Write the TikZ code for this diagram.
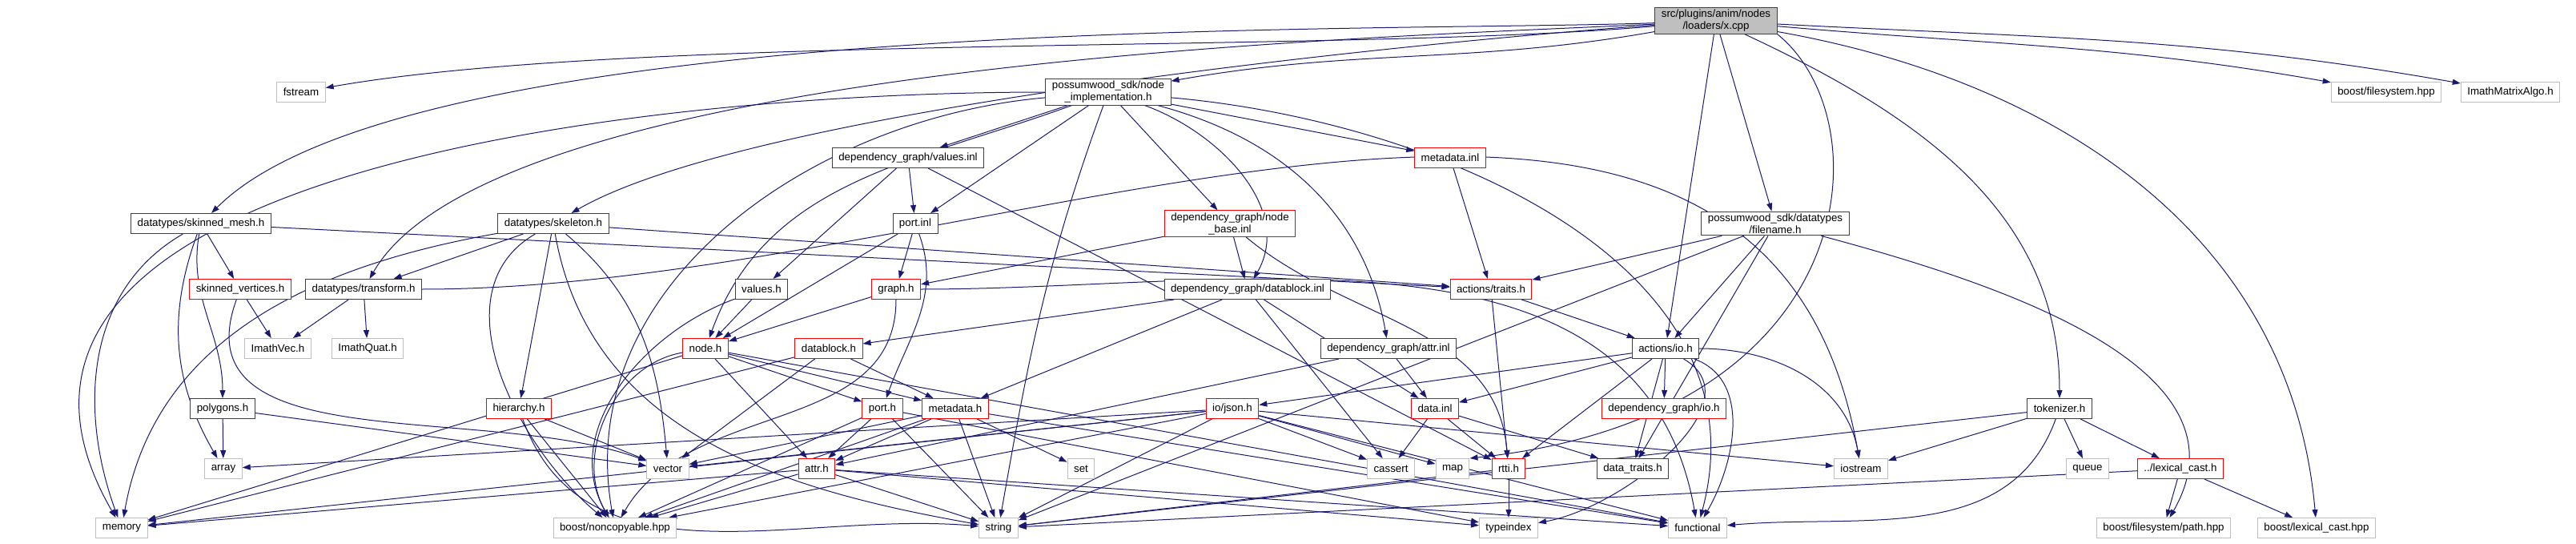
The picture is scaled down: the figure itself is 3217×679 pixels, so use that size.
\documentclass[tikz,border=0pt]{standalone}
\usepackage{fontspec}
\setmainfont{Liberation Sans}
\usetikzlibrary{arrows.meta,backgrounds}
\definecolor{edgeblue}{HTML}{191970}
\definecolor{boxred}{HTML}{FF0000}
\definecolor{boxgray}{HTML}{BFBFBF}
\begin{document}
\begin{tikzpicture}[x=0.1pt,y=-0.1pt,
  font=\fontsize{1.333}{1.5}\selectfont,
  box/.style={rectangle,line width=0.1pt,fill=white,inner xsep=0.8pt,inner ysep=0.25pt,minimum height=2.5pt,align=center},
  blkbox/.style={box,draw=black!75},
  redbox/.style={box,draw=boxred},
  sysbox/.style={box,draw=boxgray},
  rootbox/.style={box,draw=black!75,fill=boxgray},
  dep/.style={draw=edgeblue,line width=0.1pt,-{Triangle[length=1pt,width=0.7pt]}},
  every edge/.style={dep}]
\useasboundingbox (0,0) rectangle (3217,679);
\path (2143,26) node[rootbox] (root) {src/plugins/anim/nodes\\/loaders/x.cpp};
\path (376,115) node[sysbox] (fstream) {fstream};
\path (1384,115) node[blkbox] (nodeimpl) {possumwood\_sdk/node\\\_implementation.h};
\path (2980,115) node[sysbox] (fsys) {boost/filesystem.hpp};
\path (3135,115) node[sysbox] (imathmat) {ImathMatrixAlgo.h};
\path (1134,197) node[blkbox] (valuesinl) {dependency\_graph/values.inl};
\path (1811,197) node[redbox] (metainl) {metadata.inl};
\path (251,279) node[blkbox] (skinmesh) {datatypes/skinned\_mesh.h};
\path (691,279) node[blkbox] (skeleton) {datatypes/skeleton.h};
\path (1143,279) node[blkbox] (portinl) {port.inl};
\path (1536,279) node[redbox] (nodebase) {dependency\_graph/node\\\_base.inl};
\path (2217,279) node[blkbox] (filename) {possumwood\_sdk/datatypes\\/filename.h};
\path (300,361) node[redbox] (skinvert) {skinned\_vertices.h};
\path (454,361) node[blkbox] (transform) {datatypes/transform.h};
\path (951,361) node[blkbox] (valuesh) {values.h};
\path (1119,361) node[redbox] (graphh) {graph.h};
\path (1558,361) node[blkbox] (datablockinl) {dependency\_graph/datablock.inl};
\path (1862,361) node[redbox] (traits) {actions/traits.h};
\path (347,435) node[sysbox] (imathvec) {ImathVec.h};
\path (459,435) node[sysbox] (imathquat) {ImathQuat.h};
\path (881,435) node[redbox] (nodeh) {node.h};
\path (1035,435) node[redbox] (datablockh) {datablock.h};
\path (1734,435) node[blkbox] (attrinl) {dependency\_graph/attr.inl};
\path (2080,435) node[blkbox] (actio) {actions/io.h};
\path (278,510) node[blkbox] (polygons) {polygons.h};
\path (648,510) node[redbox] (hierarchy) {hierarchy.h};
\path (1102,510) node[redbox] (porth) {port.h};
\path (1193,510) node[redbox] (metah) {metadata.h};
\path (1539,510) node[redbox] (json) {io/json.h};
\path (1792,510) node[redbox] (datainl) {data.inl};
\path (2078,510) node[redbox] (dgio) {dependency\_graph/io.h};
\path (2572,510) node[blkbox] (tokenizer) {tokenizer.h};
\path (279,585) node[sysbox] (array) {array};
\path (834,585) node[sysbox] (vector) {vector};
\path (1020,585) node[redbox] (attrh) {attr.h};
\path (1350,585) node[sysbox] (set) {set};
\path (1737,585) node[sysbox] (cassert) {cassert};
\path (1814,585) node[sysbox] (map) {map};
\path (1884,585) node[redbox] (rtti) {rtti.h};
\path (2039,585) node[blkbox] (datatraits) {data\_traits.h};
\path (2324,585) node[sysbox] (iostream) {iostream};
\path (2607,585) node[sysbox] (queue) {queue};
\path (2723,585) node[redbox] (lexcast) {../lexical\_cast.h};
\path (152,659) node[sysbox] (memory) {memory};
\path (768,659) node[sysbox] (noncopy) {boost/noncopyable.hpp};
\path (1247,659) node[sysbox] (string) {string};
\path (1884,659) node[sysbox] (typeindex) {typeindex};
\path (2120,659) node[sysbox] (functional) {functional};
\path (2702,659) node[sysbox] (path) {boost/filesystem/path.hpp};
\path (2893,659) node[sysbox] (blexcast) {boost/lexical\_cast.hpp};
\begin{scope}[on background layer]
\path (root) edge[out=185,in=10,looseness=0.6] (fstream) edge[out=182,in=45,looseness=0.5] (skinmesh)
  edge[out=183,in=60,looseness=0.5] (transform) edge[out=184,in=30,looseness=0.5] (skeleton)
  edge[out=190,in=10] (nodeimpl) edge (actio) edge (filename)
  edge[out=-25,in=90] (tokenizer) edge[out=-5,in=170] (fsys) edge[out=-3,in=170] (imathmat) edge[out=-10,in=95] (blexcast);
\draw[dep] (root.south east) .. controls (2353,150) and (2330,520) .. (map.north east);
\path (nodeimpl) edge[out=180,in=120] (memory) edge[out=185,in=100] (noncopy) edge[out=200,in=70] (nodeh)
  edge (valuesinl) edge (portinl) edge[out=-110,in=80] (string) edge (nodebase) edge[out=-20,in=60] (datablockinl)
  edge[out=-15,in=100] (attrinl) edge (metainl) edge[out=-5,in=75] (functional);
\path (valuesinl) edge (portinl) edge (valuesh) edge (rtti);
\path (portinl) edge (nodeh) edge (graphh) edge[out=-70,in=70] (porth);
\path (nodebase) edge (graphh) edge (datablockinl) edge[out=-40,in=95] (rtti);
\path (metainl) edge (traits);
\path (filename) edge (traits) edge (actio) edge (datatraits) edge[out=-15,in=60] (path) edge (string);
\path (skinmesh) edge[out=-150,in=110] (memory) edge[out=-110,in=120] (array) edge[out=-100,in=90] (polygons)
  edge (skinvert) edge (traits);
\path (skeleton) edge (transform) edge[out=-170,in=80] (memory) edge (traits) edge (hierarchy) edge[out=-40,in=95] (vector)
  edge[out=-150,in=140] (noncopy) edge[out=-80,in=170] (string);
\path (skinvert) edge (imathvec) edge[out=-110,in=160] (vector);
\path (transform) edge (imathvec) edge (imathquat) edge[out=0,in=100] (iostream);
\path (polygons) edge (array) edge (vector);
\path (valuesh) edge (nodeh) edge[out=200,in=120] (noncopy);
\path (graphh) edge (nodeh) edge[out=-90,in=60] (noncopy) edge[out=0,in=100] (functional);
\path (datablockinl) edge (datablockh) edge (metah) edge (datainl) edge (cassert);
\path (traits) edge (actio) edge (rtti);
\path (nodeh) edge (memory) edge[out=190,in=120] (noncopy) edge (attrh) edge (porth) edge (metah) edge (functional);
\path (datablockh) edge (vector) edge (metah) edge (memory);
\path (attrinl) edge (datainl) edge (attrh);
\path (actio) edge (datainl) edge (json) edge (rtti) edge (dgio) edge (datatraits) edge[out=0,in=100] (iostream)
  edge[out=-20,in=60] (functional) edge[out=-30,in=10] (typeindex);
\path (hierarchy) edge (vector) edge (noncopy) edge[out=-70,in=175] (string);
\path (porth) edge (attrh) edge (string) edge (noncopy) edge (typeindex);
\path (metah) edge (attrh) edge (string) edge (set) edge (functional) edge (vector) edge (noncopy);
\path (json) edge (vector) edge (array) edge (string) edge (iostream) edge (cassert) edge (map) edge (functional)
  edge (memory) edge (noncopy);
\path (datainl) edge (cassert) edge (rtti) edge (datatraits);
\path (rtti) edge (typeindex) edge (string);
\path (attrh) edge (memory) edge (noncopy) edge (string) edge (typeindex) edge (functional);
\path (tokenizer) edge (iostream) edge (string) edge[out=-110,in=5] (functional) edge (queue) edge (lexcast);
\path (lexcast) edge (path) edge (blexcast) edge (string);
\end{scope}
\end{tikzpicture}
\end{document}
